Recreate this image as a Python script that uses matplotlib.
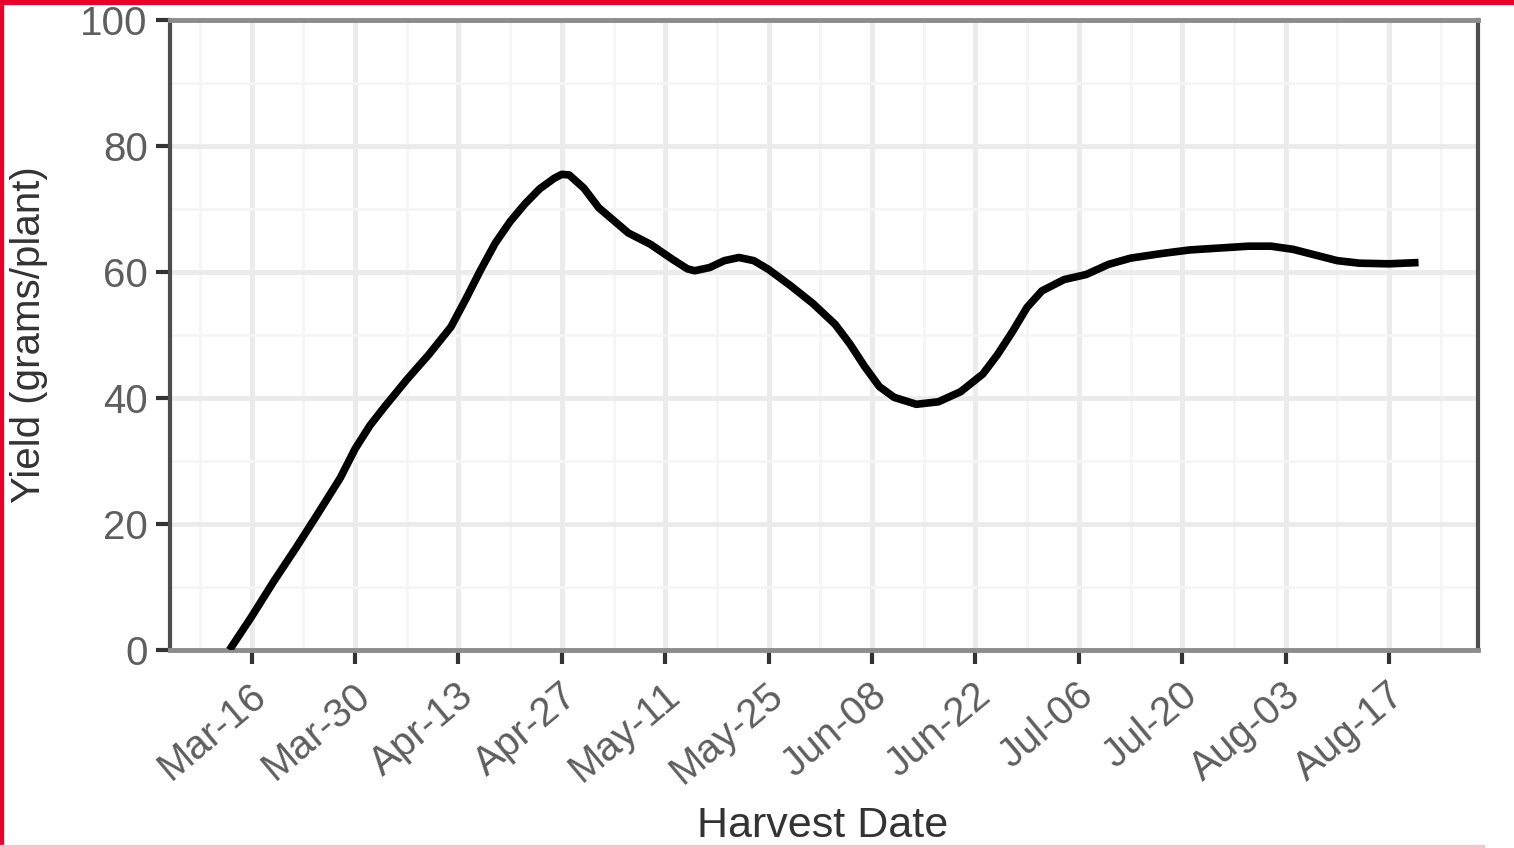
import matplotlib
matplotlib.use('Agg')
from matplotlib import pyplot as plt
import matplotlib.dates as mdates
import matplotlib.transforms as mtransforms
from matplotlib.patches import Rectangle
import pandas as pd

plt.rcParams['font.family'] = ['Liberation Sans', 'DejaVu Sans']

# yield curve (year is arbitrary, only month-day shown)
harvest_dates = [
    '2021-03-13', '2021-03-16', '2021-03-19', '2021-03-22', '2021-03-25',
    '2021-03-28', '2021-03-30', '2021-04-01', '2021-04-03', '2021-04-06',
    '2021-04-09', '2021-04-12', '2021-04-14', '2021-04-16', '2021-04-18',
    '2021-04-20', '2021-04-22', '2021-04-24', '2021-04-26', '2021-04-27',
    '2021-04-28', '2021-04-30', '2021-05-02', '2021-05-04', '2021-05-06',
    '2021-05-09', '2021-05-12', '2021-05-14', '2021-05-15', '2021-05-17',
    '2021-05-19', '2021-05-21', '2021-05-23', '2021-05-25', '2021-05-28',
    '2021-05-31', '2021-06-03', '2021-06-05', '2021-06-07', '2021-06-09',
    '2021-06-11', '2021-06-14', '2021-06-17', '2021-06-20', '2021-06-23',
    '2021-06-25', '2021-06-27', '2021-06-29', '2021-07-01', '2021-07-04',
    '2021-07-07', '2021-07-10', '2021-07-13', '2021-07-17', '2021-07-21',
    '2021-07-25', '2021-07-29', '2021-08-01', '2021-08-04', '2021-08-07',
    '2021-08-10', '2021-08-13', '2021-08-17', '2021-08-21',
]
yield_g = [
    0.0, 5.3, 10.9, 16.2, 21.7,
    27.3, 31.9, 35.6, 38.6, 42.9,
    46.9, 51.3, 55.7, 60.3, 64.6,
    68.0, 70.8, 73.2, 74.9, 75.5,
    75.4, 73.3, 70.2, 68.2, 66.2,
    64.4, 62.0, 60.5, 60.2, 60.7,
    61.8, 62.3, 61.8, 60.4, 57.8,
    55.0, 51.7, 48.6, 45.0, 41.8,
    40.1, 39.0, 39.4, 41.0, 43.8,
    46.9, 50.5, 54.4, 57.0, 58.8,
    59.6, 61.2, 62.2, 62.9, 63.5,
    63.8, 64.1, 64.1, 63.6, 62.7,
    61.8, 61.4, 61.3, 61.5,
]
y_ticks = [0, 20, 40, 60, 80, 100]
first_tick = '2021-03-16'
last_tick = '2021-08-17'

dates = pd.to_datetime(harvest_dates)
x_major = pd.date_range(first_tick, last_tick, freq='14D')
x_minor = pd.date_range(pd.Timestamp(first_tick) - pd.Timedelta(days=7),
                        pd.Timestamp(last_tick) + pd.Timedelta(days=7), freq='14D')

fig = plt.figure(figsize=(15.14, 8.48), dpi=100)
ax = fig.add_axes([170 / 1514, 1 - 650 / 848, 1308 / 1514, 630 / 848])

ax.plot(dates, yield_g, color='black', linewidth=5.5, solid_capstyle='butt',
        solid_joinstyle='round', zorder=3)

# ggplot-like expansion on x, none on y
span = dates.max() - dates.min()
ax.set_xlim(dates.min() - span * 0.05, dates.max() + span * 0.05)
ax.set_ylim(0, 100)

ax.set_xticks(x_major)
ax.set_xticks(x_minor, minor=True)
ax.xaxis.set_major_formatter(mdates.DateFormatter('%b-%d'))
ax.set_yticks(y_ticks)
ax.set_yticks([10, 30, 50, 70, 90], minor=True)

ax.grid(which='major', color='#ebebeb', linewidth=3.5, zorder=0)
ax.grid(which='minor', color='#f5f5f5', linewidth=2, zorder=0)
ax.set_axisbelow(True)

for side in ['left', 'right']:
    ax.spines[side].set_color('#4d4d4d')
    ax.spines[side].set_linewidth(3)
for side in ['top', 'bottom']:
    ax.spines[side].set_color('#8c8c8c')
    ax.spines[side].set_linewidth(3.5)

ax.tick_params(which='major', length=10, width=3, color='#333333',
               labelsize=29, labelcolor='#5e5e5e')
ax.tick_params(which='minor', length=0)
ax.tick_params(axis='y', pad=6)
ax.tick_params(axis='x', pad=19)

shift = mtransforms.ScaledTranslation(0.10, 0, fig.dpi_scale_trans)
for lab in ax.get_xticklabels():
    lab.set_rotation(40)
    lab.set_ha('right')
    lab.set_va('center')
    lab.set_rotation_mode('anchor')
    lab.set_transform(lab.get_transform() + shift)

ax.set_xlabel('Harvest Date', fontsize=31, color='#333333', va='center')
ax.xaxis.set_label_coords(0.499, -0.279)
ax.set_ylabel('Yield (grams/plant)', fontsize=29, color='#333333', ha='center', va='center')
ax.yaxis.set_label_coords(-0.108, 0.5)

# red frame of the original screenshot
fig.patches.append(Rectangle((0, 1 - 4 / 848), 1, 4 / 848, transform=fig.transFigure,
                             color='#e8002d', zorder=10))
fig.patches.append(Rectangle((0, 0), 3 / 1514, 1, transform=fig.transFigure,
                             color='#e8002d', zorder=10))
fig.patches.append(Rectangle((0, 0), 1484 / 1514, 3 / 848, transform=fig.transFigure,
                             color='#f0c8d0', zorder=10))

plt.savefig('out.png', dpi=100)
